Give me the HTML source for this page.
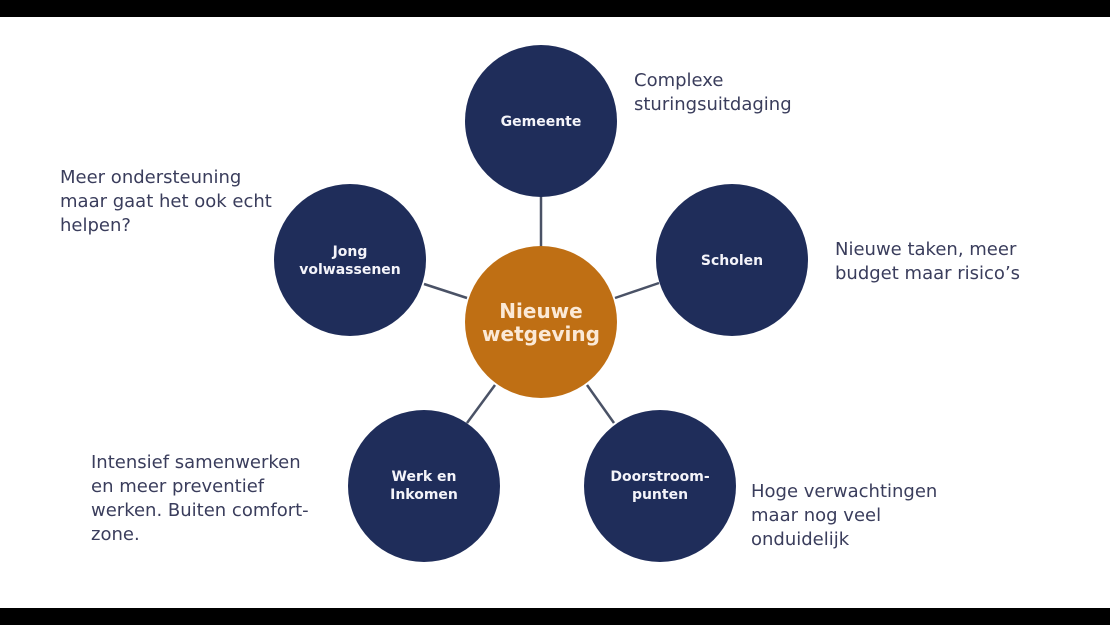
<!DOCTYPE html>
<html><head><meta charset="utf-8"><style>
html,body{margin:0;padding:0;background:#fff;}
svg{display:block;}
.t{font-family:"DejaVu Sans","Liberation Sans",sans-serif;font-size:18px;fill:#3a3d5c;}
.c{font-family:"DejaVu Sans","Liberation Sans",sans-serif;font-size:14px;font-weight:bold;fill:#f4f4fa;text-anchor:middle;}
</style></head><body>
<svg width="1110" height="625" viewBox="0 0 1110 625">
<rect x="0" y="0" width="1110" height="17" fill="#000"/>
<rect x="0" y="608" width="1110" height="17" fill="#000"/>
<g stroke="#4a5266" stroke-width="2.5">
<line x1="541" y1="195" x2="541" y2="248"/>
<line x1="424" y1="284" x2="467" y2="298"/>
<line x1="615" y1="298" x2="659" y2="283"/>
<line x1="495" y1="385" x2="467" y2="423"/>
<line x1="587" y1="385" x2="614" y2="423"/>
</g>
<g fill="#1f2d5a">
<circle cx="541" cy="121" r="76"/>
<circle cx="732" cy="260" r="76"/>
<circle cx="350" cy="260" r="76"/>
<circle cx="424" cy="486" r="76"/>
<circle cx="660" cy="486" r="76"/>
</g>
<circle cx="541" cy="322" r="76" fill="#bf6f14"/>
<text class="c" x="541" y="126">Gemeente</text>
<text class="c" x="732" y="265">Scholen</text>
<text class="c" x="350" y="256">Jong</text>
<text class="c" x="350" y="274">volwassenen</text>
<text class="c" x="424" y="481">Werk en</text>
<text class="c" x="424" y="499">Inkomen</text>
<text class="c" x="660" y="481">Doorstroom-</text>
<text class="c" x="660" y="499">punten</text>
<text x="541" y="318" text-anchor="middle" style="font-family:'DejaVu Sans',sans-serif;font-size:20px;font-weight:bold;fill:#fbe9d6">Nieuwe</text>
<text x="541" y="341" text-anchor="middle" style="font-family:'DejaVu Sans',sans-serif;font-size:20px;font-weight:bold;fill:#fbe9d6">wetgeving</text>
<text class="t" x="634" y="86">Complexe</text>
<text class="t" x="634" y="110">sturingsuitdaging</text>
<text class="t" x="60" y="183">Meer ondersteuning</text>
<text class="t" x="60" y="207">maar gaat het ook echt</text>
<text class="t" x="60" y="231">helpen?</text>
<text class="t" x="835" y="255">Nieuwe taken, meer</text>
<text class="t" x="835" y="279">budget maar risico’s</text>
<text class="t" x="91" y="468">Intensief samenwerken</text>
<text class="t" x="91" y="492">en meer preventief</text>
<text class="t" x="91" y="516">werken. Buiten comfort-</text>
<text class="t" x="91" y="540">zone.</text>
<text class="t" x="751" y="497">Hoge verwachtingen</text>
<text class="t" x="751" y="521">maar nog veel</text>
<text class="t" x="751" y="545">onduidelijk</text>
</svg>
</body></html>
